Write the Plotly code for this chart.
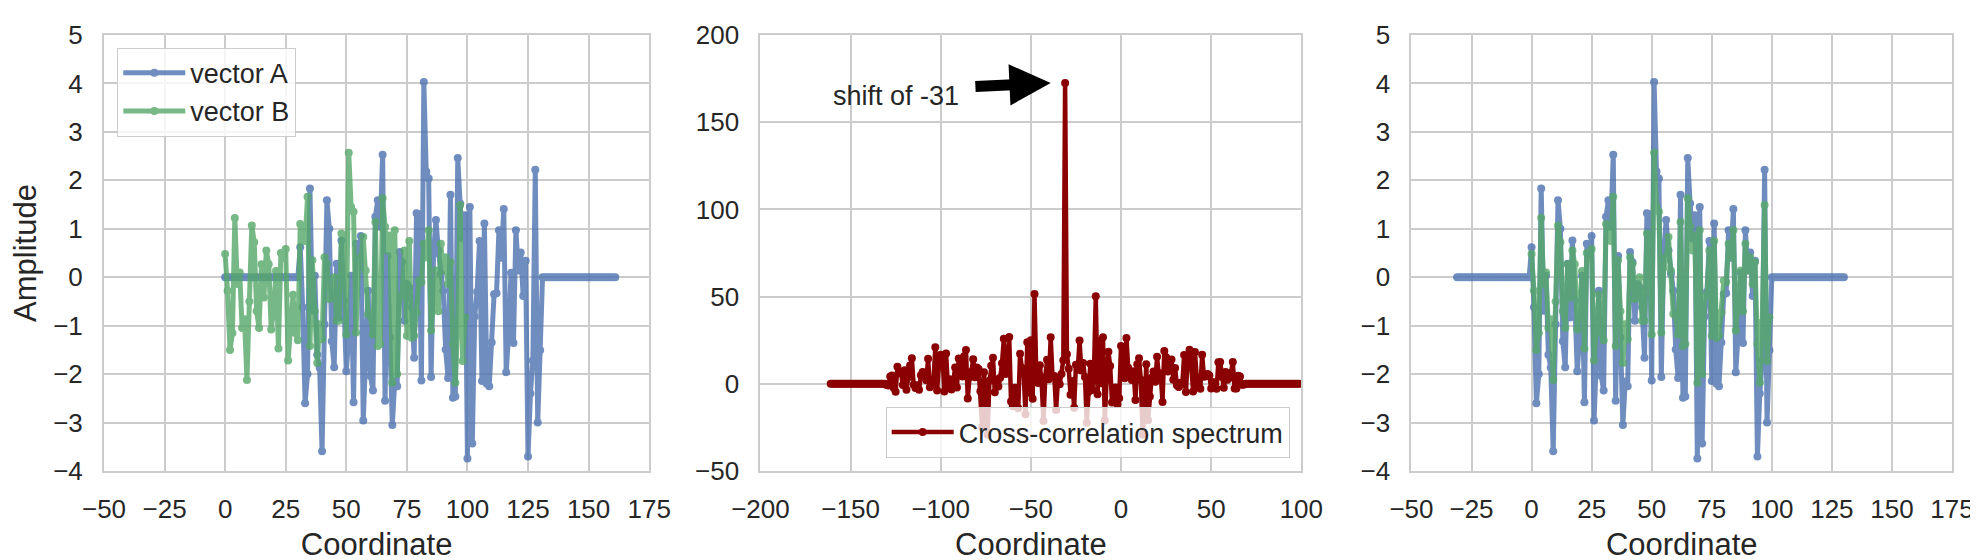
import numpy as np
import plotly.graph_objects as go
from plotly.subplots import make_subplots

# values
vector_b = [
    0.48, -0.28, -1.5, -1.15, 1.22, -0.14, 0.1, -1.05, -0.87, -2.12,
    -0.5, 1.07, 0.72, -0.7, -1.05, 0.27, -0.42, 0.55, 0.27, -1.08,
    -0.68, 0.13, -1.47, 0.5, 0.4, 0.58, -1.72, -1.05, -0.36, -1.15,
    -1.3, 1.1, 0.85, 0.75, 1.66, -1.42, 0.35, -0.7, -1.77, -0.97,
    -1.28, 0.41, 0.28, -0.45, -0.28, 0.0, -0.9, -0.9, 0.9, 0.85,
    -1.18, 2.57, 1.45, 1.35, -1.14, 0.2, 0.41, 0.83, 0.14, -0.76,
    -0.8, -1.18, 1.14, -1.42, -1.38, 1.63, 1.04, 0.55, 0.86, -2.18,
    0.97, -2.0, -0.4, -0.38, 0.55, -1.21, 0.75, -1.25, -1.21, -0.73,
    -0.07, -0.1, 0.69, 0.41, 0.97, -1.1, -0.55, 0.14, -0.7, 0.69,
    0.14, 0.41, -0.14, 0.31, -1.38, -2.18, -0.93, 1.49, -1.73, -0.83,
]

a_lead = [0.0, 0.0, 0.0, 0.0, 0.0, 0.0, 0.0, 0.0, 0.0, 0.0, 0.0, 0.0, 0.0, 0.0, 0.0, 0.0,
          0.0, 0.0, 0.0, 0.0, 0.0, 0.0, 0.0, 0.0, 0.0, 0.0, 0.0, 0.0, 0.0, 0.0, 0.0]
a_signal = [
    0.62, -0.62, -2.6, -2.0, 1.83, -0.69, 0.03, -1.6, -1.87, -3.59,
    -0.97, 1.59, 1.0, -1.32, -1.86, 0.28, -0.83, 0.76, -0.48, -1.94,
    -1.25, 0.03, -2.58, 0.69, 0.48, 0.85, -2.96, -1.87, -0.28, -2.04,
    -2.34, 1.25, 1.59, 1.04, 2.53, -2.55, 0.44, -1.25, -3.05, -2.15,
    -2.25, 0.52, 0.31, -0.9, -0.14, -0.21, -0.62, -1.66, 1.32, 1.3,
    -2.13, 4.03, 2.18, 2.04, -2.06, 0.48, 1.18, 0.55, 0.07, -0.28,
    -1.49, -2.08, 1.7, -2.49, -2.46, 2.46, 1.52, 0.8, 1.28, -3.74,
    1.45, -3.43, -0.81, -0.3, 0.75, -2.14, 1.11, -2.2, -2.25, -1.35,
    -0.35, -0.33, 0.97, 0.4, 1.41, -1.96, -1.17, 0.09, -1.36, 0.97,
    0.14, 0.51, -0.39, 0.34, -3.7, -2.4, -1.72, 2.22, -3.0, -1.51,
]
a_tail = [0.0, 0.0, 0.0, 0.0, 0.0, 0.0, 0.0, 0.0, 0.0, 0.0, 0.0, 0.0, 0.0, 0.0, 0.0, 0.0,
          0.0, 0.0, 0.0, 0.0, 0.0, 0.0, 0.0, 0.0, 0.0, 0.0, 0.0, 0.0, 0.0, 0.0, 0.0]
shift = -31

vector_a = np.array(a_lead + a_signal + a_tail)
vector_b = np.array(vector_b)
coord_a = np.arange(len(vector_a))
coord_b = np.arange(len(vector_b))

# cross-correlation of the two vectors
lags = np.arange(-len(vector_a) + 1, len(vector_b))
xcorr = np.correlate(vector_b, vector_a, mode="full")
peak_lag = lags[np.argmax(xcorr)]
peak_val = xcorr.max()

blue = "#4C72B0"
green = "#55A868"
red = "#8B0000"
grid = "#cccccc"
txt = "#262626"
font = "Arial, Liberation Sans, sans-serif"

fig = make_subplots(rows=1, cols=3)

fig.add_trace(go.Scatter(x=coord_a, y=vector_a, mode="lines+markers", name="vector A",
                         line=dict(color=blue, width=5), marker=dict(size=8),
                         opacity=0.8, legend="legend"), row=1, col=1)
fig.add_trace(go.Scatter(x=coord_b, y=vector_b, mode="lines+markers", name="vector B",
                         line=dict(color=green, width=5), marker=dict(size=8),
                         opacity=0.8, legend="legend"), row=1, col=1)

fig.add_trace(go.Scatter(x=lags, y=xcorr, mode="lines+markers", name="Cross-correlation spectrum",
                         line=dict(color=red, width=4.5), marker=dict(size=8),
                         legend="legend2"), row=1, col=2)

fig.add_trace(go.Scatter(x=coord_a + shift, y=vector_a, mode="lines+markers", showlegend=False,
                         line=dict(color=blue, width=5), marker=dict(size=8),
                         opacity=0.8), row=1, col=3)
fig.add_trace(go.Scatter(x=coord_b, y=vector_b, mode="lines+markers", showlegend=False,
                         line=dict(color=green, width=5), marker=dict(size=8),
                         opacity=0.8), row=1, col=3)

axis_style = dict(showgrid=True, gridcolor=grid, gridwidth=2, zeroline=False,
                  showline=True, mirror=True, linecolor=grid, linewidth=2,
                  ticks="", tickfont=dict(size=26, color=txt), ticklabelstandoff=14,
                  ticklabeloverflow="allow", title_font=dict(size=31, color=txt))

fig.update_xaxes(**axis_style)
fig.update_yaxes(**axis_style)

fig.update_xaxes(domain=[0.0, 0.295], range=[-50, 175], dtick=25, title_text="Coordinate",
                 title_standoff=10, row=1, col=1)
fig.update_xaxes(domain=[0.3552, 0.6479], range=[-200, 100], dtick=50, title_text="Coordinate",
                 title_standoff=10, row=1, col=2)
fig.update_xaxes(domain=[0.7075, 1.0], range=[-50, 175], dtick=25, title_text="Coordinate",
                 title_standoff=10, row=1, col=3)
fig.update_yaxes(range=[-4, 5], dtick=1, title_text="Amplitude", title_standoff=8, row=1, col=1)
fig.update_yaxes(range=[-50, 200], dtick=50, row=1, col=2)
fig.update_yaxes(range=[-4, 5], dtick=1, row=1, col=3)

fig.add_annotation(x=-161, y=165, xref="x2", yref="y2", text="shift of -31", showarrow=False,
                   xanchor="left", yanchor="middle", font=dict(size=27, color=txt))
fig.add_annotation(x=peak_lag - 8, y=peak_val, xref="x2", yref="y2",
                   ax=peak_lag - 50.6, ay=peak_val - 2, axref="x2", ayref="y2",
                   text="", showarrow=True, arrowhead=2, arrowsize=0.75, arrowwidth=11,
                   arrowcolor="black")

legend_style = dict(bgcolor="rgba(255,255,255,0.8)", bordercolor=grid, borderwidth=1,
                    font=dict(size=27, color=txt), itemwidth=62)

fig.update_layout(
    width=1978, height=560,
    margin=dict(l=96, r=27, t=13, b=82),
    paper_bgcolor="white", plot_bgcolor="white",
    font=dict(family=font, color=txt),
    legend=dict(x=0.0072, y=0.9707, xanchor="left", yanchor="top", **legend_style),
    legend2=dict(x=0.6416, y=0.0297, xanchor="right", yanchor="bottom", **legend_style),
)

fig.write_html("out.html")
